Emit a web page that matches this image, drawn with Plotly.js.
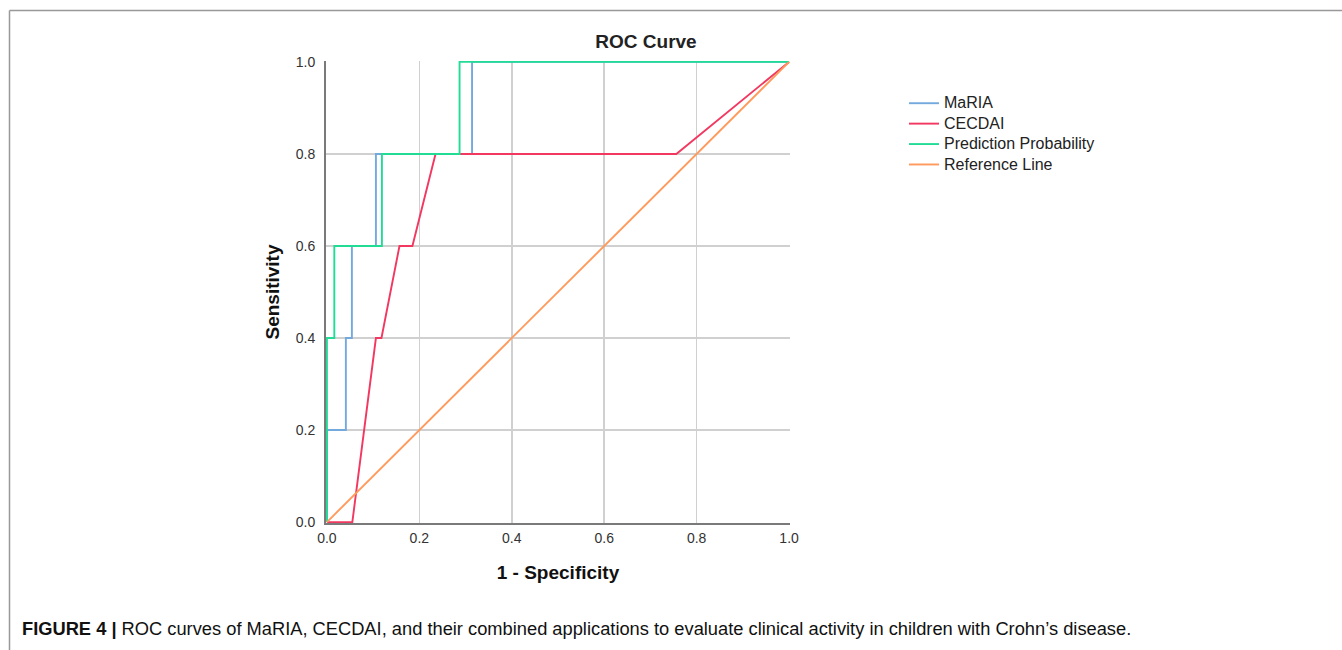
<!DOCTYPE html>
<html>
<head>
<meta charset="utf-8">
<script src="https://cdn.plot.ly/plotly-3.0.1.min.js"></script>
<style>
html,body{margin:0;padding:0;background:#fff;}
#chart{width:1342px;height:650px;}
</style>
</head>
<body>
<div id="chart"></div>
<script>
// ROC curve points
const seriesNames = ["MaRIA", "CECDAI", "Prediction Probability", "Reference Line"];
const mariaX = [0, 0, 0.041, 0.041, 0.054, 0.054, 0.106, 0.106, 0.314, 0.314, 1];
const mariaY = [0, 0.2, 0.2, 0.4, 0.4, 0.6, 0.6, 0.8, 0.8, 1, 1];
const cecdaiX = [0, 0.055, 0.106, 0.118, 0.157, 0.185, 0.235, 0.756, 1];
const cecdaiY = [0, 0, 0.4, 0.4, 0.6, 0.6, 0.8, 0.8, 1];
const predX = [0, 0, 0.016, 0.016, 0.119, 0.119, 0.287, 0.287, 1];
const predY = [0, 0.4, 0.4, 0.6, 0.6, 0.8, 0.8, 1, 1];
const refX = [0, 1];
const refY = [0, 1];
const tickVals = [0, 0.2, 0.4, 0.6, 0.8, 1.0];
const tickText = ["0.0", "0.2", "0.4", "0.6", "0.8", "1.0"];

const colors = ["#73a9dd", "#f23760", "#22dc96", "#ff9a5c"];
const xs = [mariaX, cecdaiX, predX, refX];
const ys = [mariaY, cecdaiY, predY, refY];

const traces = seriesNames.map((n, i) => ({
  type: "scatter", mode: "lines",
  name: '<span style="font-size:16px">' + n + '</span>',
  x: xs[i], y: ys[i],
  line: {color: colors[i], width: 1.9},
  hoverinfo: "x+y"
}));

// plot area in px: x 326..790, y 61..523
const L = 326, R = 790, T = 61, B = 523, W = 1342, H = 650;
const pw = R - L, ph = B - T;
const px2x = p => (p - L) / pw;
const py2y = p => (B - p) / ph;

const font = "Liberation Sans, Arial, sans-serif";

const axisCommon = {
  range: [-0.002, 1.002], tickvals: tickVals, ticktext: tickText,
  showgrid: true, gridcolor: "#d0d0d0", gridwidth: 1.5,
  zeroline: false, showline: true, linecolor: "#7a7a7a", linewidth: 2,
  ticks: "outside", ticklen: 5, tickcolor: "rgba(0,0,0,0)",
  tickfont: {family: font, size: 14, color: "#333"},
  fixedrange: true
};

const layout = {
  width: W, height: H,
  margin: {l: L, r: W - R, t: T, b: H - B, pad: 0},
  paper_bgcolor: "#fff", plot_bgcolor: "#fff",
  font: {family: font, color: "#222"},
  title: {
    text: "<b>ROC Curve</b>",
    font: {family: font, size: 19, color: "#222"},
    xref: "paper", x: px2x(646), xanchor: "center",
    yref: "container", y: 1 - 41 / H, yanchor: "middle"
  },
  xaxis: Object.assign({}, axisCommon, {
    ticklen: 1,
    title: {text: "<b>1 - Specificity</b>", font: {family: font, size: 19, color: "#111"}, standoff: 21}
  }),
  yaxis: Object.assign({}, axisCommon, {
    ticklen: 6,
    title: {text: "<b>Sensitivity</b>", font: {family: font, size: 19, color: "#111"}, standoff: 11}
  }),
  legend: {
    x: px2x(904), xanchor: "left", y: py2y(88), yanchor: "top",
    font: {family: font, size: 13.4, color: "#222"},
    bgcolor: "rgba(0,0,0,0)", itemwidth: 30, tracegroupgap: 0
  },
  showlegend: true,
  shapes: [
    {type: "line", xref: "paper", yref: "paper",
     x0: px2x(9.5), x1: px2x(1345), y0: py2y(10.5), y1: py2y(10.5),
     line: {color: "#999", width: 1.5}},
    {type: "line", xref: "paper", yref: "paper",
     x0: px2x(9.5), x1: px2x(9.5), y0: py2y(10.5), y1: py2y(655),
     line: {color: "#999", width: 1.5}}
  ],
  annotations: [
    {xref: "paper", yref: "paper", x: px2x(20), y: py2y(628),
     xanchor: "left", yanchor: "middle", showarrow: false,
     text: "<b>FIGURE 4 |</b> ROC curves of MaRIA, CECDAI, and their combined applications to evaluate clinical activity in children with Crohn’s disease.",
     font: {family: font, size: 18.3, color: "#111"}}
  ]
};

Plotly.newPlot("chart", traces, layout, {displayModeBar: false, staticPlot: true});
</script>
</body>
</html>
